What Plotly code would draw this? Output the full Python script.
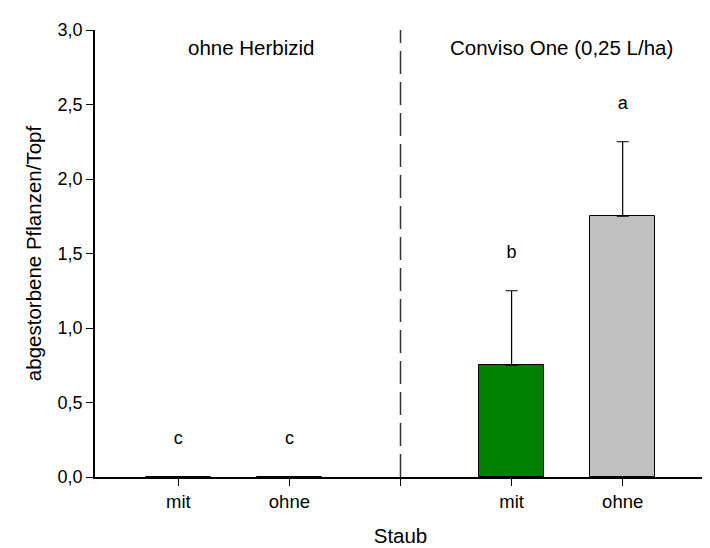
import plotly.graph_objects as go

# data
positions = [1, 2, 4, 5]
tick_labels = ["mit", "ohne", "", "mit", "ohne"]
tick_positions = [1, 2, 3, 4, 5]
values = [0.0, 0.0, 0.75, 1.75]
errors = [0.0, 0.0, 0.5, 0.5]
letters = ["c", "c", "b", "a"]
letter_y = [0.25, 0.25, 1.5, 2.5]
colors = ["#008000", "#008000", "#008000", "#C0C0C0"]
group_labels = ["ohne Herbizid", "Conviso One (0,25 L/ha)"]
group_x = [1.66, 4.45]
separator_x = 3

FONT = "Liberation Sans, Arial, sans-serif"

fig = go.Figure()
fig.add_trace(go.Bar(
    x=positions, y=values, width=0.59,
    marker=dict(color=colors, line=dict(color="black", width=1)),
    error_y=dict(type="data", array=errors, arrayminus=[0] * 4, symmetric=False,
                 color="black", thickness=1.2, width=6),
    showlegend=False,
))
fig.add_trace(go.Scatter(
    x=positions, y=letter_y, mode="text", text=letters,
    textfont=dict(family=FONT, size=18, color="black"), showlegend=False,
))
for gx, gl in zip(group_x, group_labels):
    fig.add_annotation(x=gx, y=2.88, xref="x", yref="y", text=gl, showarrow=False,
                       font=dict(family=FONT, size=20.5, color="black"))
fig.add_shape(type="line", x0=separator_x, x1=separator_x, y0=0, y1=3, xref="x", yref="y",
              line=dict(color="#333333", width=1.5, dash="23px,8px"))

fig.update_layout(
    width=710, height=548,
    margin=dict(l=87, r=12, t=21, b=74),
    plot_bgcolor="white", paper_bgcolor="white",
    font=dict(family=FONT, color="black"),
    bargap=0,
)
fig.update_xaxes(
    range=[0.25, 5.75], tickmode="array", tickvals=tick_positions, ticktext=tick_labels,
    ticks="outside", ticklen=7, tickwidth=1.2, tickcolor="black",
    showline=True, linecolor="black", linewidth=1.5, showgrid=False, zeroline=False,
    tickfont=dict(family=FONT, size=18.5),
    title=dict(text="Staub", font=dict(family=FONT, size=20.5), standoff=18),
)
fig.update_yaxes(
    range=[0, 3.0], tickmode="array", tickvals=[0, 0.5, 1.0, 1.5, 2.0, 2.5, 3.0],
    ticktext=["0,0", "0,5", "1,0", "1,5", "2,0", "2,5", "3,0"],
    ticks="outside", ticklen=7, tickwidth=1.2, tickcolor="black",
    showline=True, linecolor="black", linewidth=1.5, showgrid=False, zeroline=False,
    tickfont=dict(family=FONT, size=18),
    title=dict(text="abgestorbene Pflanzen/Topf", font=dict(family=FONT, size=20.5), standoff=10),
)
fig.write_html("out.html")
